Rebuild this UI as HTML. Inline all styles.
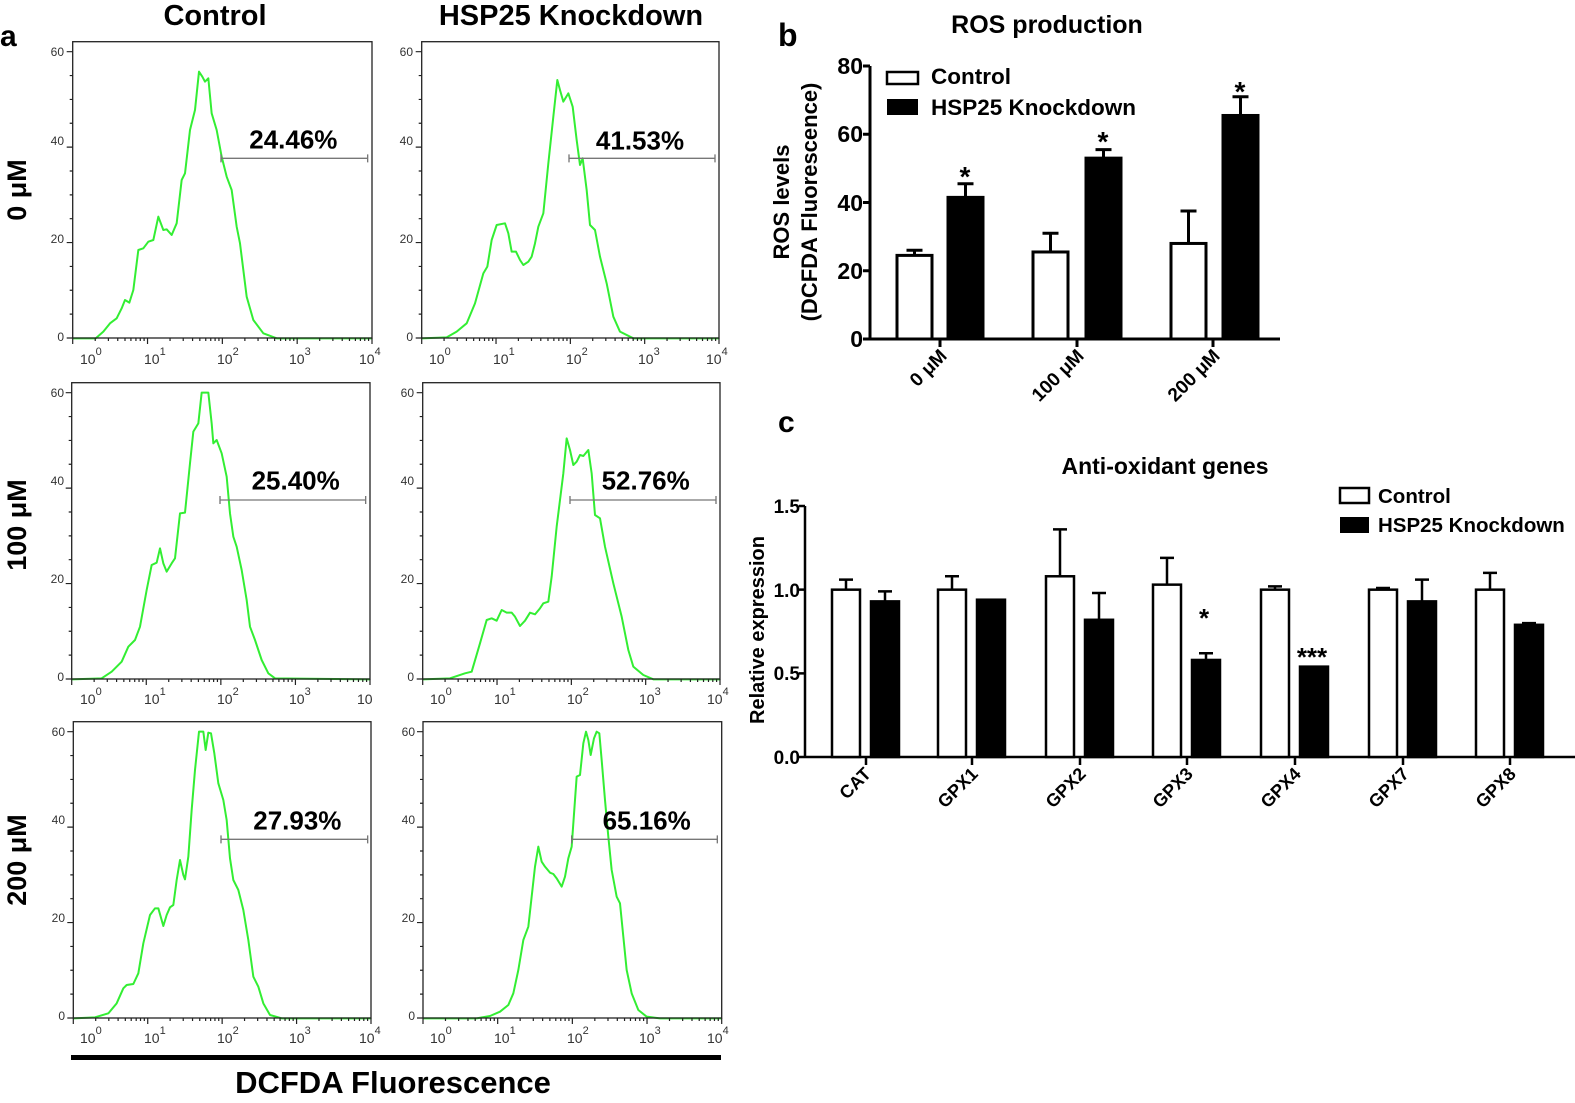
<!DOCTYPE html>
<html><head><meta charset="utf-8"><style>
html,body{margin:0;padding:0;background:#fff;}
svg{display:block;font-family:"Liberation Sans",Arial,sans-serif;}
.b{font-weight:bold;}
</style></head><body>
<svg id="s" width="1575" height="1103" viewBox="0 0 1575 1103" xmlns="http://www.w3.org/2000/svg">
<rect width="1575" height="1103" fill="#fff"/>
<text x="0" y="46" class="b" font-size="30">a</text>
<text x="215" y="25" class="b" font-size="29" text-anchor="middle">Control</text>
<text x="571" y="25" class="b" font-size="29" text-anchor="middle">HSP25 Knockdown</text>
<text transform="translate(26,190) rotate(-90)" class="b" font-size="27" text-anchor="middle">0 μM</text>
<text transform="translate(26,525) rotate(-90)" class="b" font-size="27" text-anchor="middle">100 μM</text>
<text transform="translate(26,860) rotate(-90)" class="b" font-size="27" text-anchor="middle">200 μM</text>
<rect x="71" y="1055" width="650" height="5" fill="#000"/>
<text x="393" y="1093" class="b" font-size="31" text-anchor="middle">DCFDA Fluorescence</text>

<g transform="translate(0,30) scale(0.33333)">
<path d="M218,925 L287,925 L310,905 L330,880 L350,865 L365,835 L375,810 L388,818 L400,780 L415,660 L430,655 L445,635 L460,630 L475,560 L490,600 L500,598 L515,615 L530,580 L545,450 L555,430 L570,300 L585,240 L597,125 L607,140 L615,155 L625,145 L635,250 L650,300 L665,380 L680,440 L695,480 L710,590 L720,640 L740,800 L760,870 L790,910 L830,925 L1115,925" fill="none" stroke="#33ee33" stroke-width="6" stroke-linejoin="round"/>
<path d="M663,385 H1103 M663,373 V397 M1103,373 V397" stroke="#777" stroke-width="4"/>
<text x="880" y="355" class="b" font-size="78" text-anchor="middle">24.46%</text>
</g>
<g transform="translate(400,30) scale(0.33333)">
<path d="M65,925 L140,922 L170,905 L200,880 L225,820 L250,730 L262,710 L275,630 L290,585 L315,580 L325,610 L335,665 L348,665 L360,690 L370,705 L385,695 L395,680 L405,640 L415,590 L430,550 L445,400 L460,260 L472,150 L480,180 L490,215 L505,190 L518,230 L530,330 L540,405 L548,385 L560,480 L570,585 L585,600 L600,680 L620,760 L640,860 L660,905 L700,925 L958,925" fill="none" stroke="#33ee33" stroke-width="6" stroke-linejoin="round"/>
<path d="M507,385 H945 M507,373 V397 M945,373 V397" stroke="#777" stroke-width="4"/>
<text x="720" y="358" class="b" font-size="78" text-anchor="middle">41.53%</text>
</g>
<g transform="translate(55,370) scale(0.33333)">
<path d="M50,928 L140,925 L170,905 L200,875 L220,830 L240,810 L255,770 L275,660 L290,585 L305,578 L315,535 L325,580 L335,605 L350,580 L360,565 L375,430 L390,428 L405,280 L415,185 L430,160 L440,68 L460,68 L470,160 L475,220 L485,210 L500,250 L515,320 L525,430 L535,500 L545,530 L560,600 L575,690 L585,770 L600,810 L620,870 L640,910 L660,925 L945,928" fill="none" stroke="#33ee33" stroke-width="6" stroke-linejoin="round"/>
<path d="M495,390 H932 M495,378 V402 M932,378 V402" stroke="#777" stroke-width="4"/>
<text x="722" y="358" class="b" font-size="78" text-anchor="middle">25.40%</text>
</g>
<g transform="translate(400,370) scale(0.33333)">
<path d="M68,928 L150,925 L195,910 L215,905 L240,820 L260,750 L275,745 L290,752 L305,720 L320,728 L335,728 L345,740 L360,768 L375,752 L390,728 L405,733 L420,715 L430,700 L445,695 L455,620 L470,470 L490,310 L500,205 L510,240 L520,285 L530,275 L540,255 L550,258 L565,240 L575,310 L585,435 L600,445 L615,530 L640,640 L665,740 L685,840 L700,890 L730,915 L760,928 L960,928" fill="none" stroke="#33ee33" stroke-width="6" stroke-linejoin="round"/>
<path d="M510,390 H948 M510,378 V402 M948,378 V402" stroke="#777" stroke-width="4"/>
<text x="737" y="358" class="b" font-size="78" text-anchor="middle">52.76%</text>
</g>
<g transform="translate(55,710) scale(0.33333)">
<path d="M55,925 L120,922 L160,910 L185,880 L205,835 L215,825 L235,822 L250,790 L265,700 L285,615 L300,595 L310,595 L325,648 L335,615 L345,592 L355,585 L365,510 L375,450 L385,495 L390,508 L400,440 L410,300 L420,180 L432,65 L445,65 L452,120 L460,68 L468,70 L478,130 L490,220 L505,270 L515,330 L525,445 L535,510 L550,540 L565,600 L580,690 L595,800 L610,830 L625,880 L645,915 L680,925 L948,925" fill="none" stroke="#33ee33" stroke-width="6" stroke-linejoin="round"/>
<path d="M498,388 H938 M498,376 V400 M938,376 V400" stroke="#777" stroke-width="4"/>
<text x="727" y="358" class="b" font-size="78" text-anchor="middle">27.93%</text>
</g>
<g transform="translate(400,710) scale(0.33333)">
<path d="M70,925 L230,925 L270,918 L300,905 L325,885 L340,850 L355,780 L370,690 L385,650 L395,560 L405,470 L415,410 L425,455 L435,470 L450,488 L460,492 L470,505 L485,530 L495,500 L505,445 L515,410 L525,270 L530,200 L540,195 L550,100 L558,65 L565,90 L572,135 L582,85 L590,65 L598,70 L605,150 L615,270 L625,380 L635,480 L650,560 L660,580 L670,680 L680,780 L695,850 L715,900 L740,920 L780,925 L965,925" fill="none" stroke="#33ee33" stroke-width="6" stroke-linejoin="round"/>
<path d="M515,388 H952 M515,376 V400 M952,376 V400" stroke="#777" stroke-width="4"/>
<text x="740" y="358" class="b" font-size="78" text-anchor="middle">65.16%</text>
</g>

<g font-size="12" fill="#333" text-anchor="end">
<text x="64" y="56">60</text><text x="64" y="145">40</text><text x="64" y="243">20</text><text x="64" y="341">0</text>
<text x="413" y="56">60</text><text x="413" y="145">40</text><text x="413" y="243">20</text><text x="413" y="341">0</text>
<text x="64" y="397">60</text><text x="64" y="485">40</text><text x="64" y="583">20</text><text x="64" y="681">0</text>
<text x="414" y="397">60</text><text x="414" y="485">40</text><text x="414" y="583">20</text><text x="414" y="681">0</text>
<text x="65" y="736">60</text><text x="65" y="824">40</text><text x="65" y="922">20</text><text x="65" y="1020">0</text>
<text x="415" y="736">60</text><text x="415" y="824">40</text><text x="415" y="922">20</text><text x="415" y="1020">0</text>
</g>
<g font-size="14" fill="#333">
<text x="80" y="364">10<tspan dy="-9" font-size="11">0</tspan></text>
<text x="144" y="364">10<tspan dy="-9" font-size="11">1</tspan></text>
<text x="217" y="364">10<tspan dy="-9" font-size="11">2</tspan></text>
<text x="289" y="364">10<tspan dy="-9" font-size="11">3</tspan></text>
<text x="359" y="364">10<tspan dy="-9" font-size="11">4</tspan></text>
<text x="429" y="364">10<tspan dy="-9" font-size="11">0</tspan></text>
<text x="493" y="364">10<tspan dy="-9" font-size="11">1</tspan></text>
<text x="566" y="364">10<tspan dy="-9" font-size="11">2</tspan></text>
<text x="638" y="364">10<tspan dy="-9" font-size="11">3</tspan></text>
<text x="706" y="364">10<tspan dy="-9" font-size="11">4</tspan></text>
<text x="80" y="704">10<tspan dy="-9" font-size="11">0</tspan></text>
<text x="144" y="704">10<tspan dy="-9" font-size="11">1</tspan></text>
<text x="217" y="704">10<tspan dy="-9" font-size="11">2</tspan></text>
<text x="289" y="704">10<tspan dy="-9" font-size="11">3</tspan></text>
<text x="357" y="704">10</text>
<text x="430" y="704">10<tspan dy="-9" font-size="11">0</tspan></text>
<text x="494" y="704">10<tspan dy="-9" font-size="11">1</tspan></text>
<text x="567" y="704">10<tspan dy="-9" font-size="11">2</tspan></text>
<text x="639" y="704">10<tspan dy="-9" font-size="11">3</tspan></text>
<text x="707" y="704">10<tspan dy="-9" font-size="11">4</tspan></text>
<text x="80" y="1043">10<tspan dy="-9" font-size="11">0</tspan></text>
<text x="144" y="1043">10<tspan dy="-9" font-size="11">1</tspan></text>
<text x="217" y="1043">10<tspan dy="-9" font-size="11">2</tspan></text>
<text x="289" y="1043">10<tspan dy="-9" font-size="11">3</tspan></text>
<text x="359" y="1043">10<tspan dy="-9" font-size="11">4</tspan></text>
<text x="430" y="1043">10<tspan dy="-9" font-size="11">0</tspan></text>
<text x="494" y="1043">10<tspan dy="-9" font-size="11">1</tspan></text>
<text x="567" y="1043">10<tspan dy="-9" font-size="11">2</tspan></text>
<text x="639" y="1043">10<tspan dy="-9" font-size="11">3</tspan></text>
<text x="707" y="1043">10<tspan dy="-9" font-size="11">4</tspan></text>
</g>

<!-- panel b -->
<text x="778" y="46" class="b" font-size="32">b</text>
<text x="1047" y="33" class="b" font-size="25" text-anchor="middle">ROS production</text>
<text transform="translate(789,202) rotate(-90)" class="b" font-size="22" text-anchor="middle">ROS levels</text>
<text transform="translate(817,202) rotate(-90)" class="b" font-size="22" text-anchor="middle">(DCFDA Fluorescence)</text>
<g class="b" font-size="23" text-anchor="end">
<text x="863" y="74">80</text><text x="863" y="142">60</text><text x="863" y="211">40</text><text x="863" y="279">20</text><text x="863" y="347">0</text>
</g>
<rect x="887" y="72" width="31" height="12" fill="#fff" stroke="#000" stroke-width="2.5"/>
<rect x="887" y="99" width="31" height="16" fill="#000"/>
<text x="931" y="84" class="b" font-size="22.5">Control</text>
<text x="931" y="115" class="b" font-size="22.5">HSP25 Knockdown</text>
<g class="b" font-size="19" text-anchor="end">
<text transform="translate(948,357) rotate(-45)">0 μM</text>
<text transform="translate(1085,357) rotate(-45)">100 μM</text>
<text transform="translate(1221,357) rotate(-45)">200 μM</text>
</g>
<g class="b" font-size="28" text-anchor="middle">
<text x="965" y="186">*</text><text x="1103" y="151">*</text><text x="1240" y="101">*</text>
</g>

<!-- panel c -->
<text x="778" y="432" class="b" font-size="30">c</text>
<text x="1165" y="474" class="b" font-size="23" text-anchor="middle">Anti-oxidant genes</text>
<text transform="translate(764,630) rotate(-90)" class="b" font-size="20" text-anchor="middle">Relative expression</text>
<g class="b" font-size="19" text-anchor="end">
<text x="800" y="513">1.5</text><text x="800" y="597">1.0</text><text x="800" y="680">0.5</text><text x="800" y="764">0.0</text>
</g>
<rect x="1340" y="488" width="29" height="15" fill="#fff" stroke="#000" stroke-width="2.5"/>
<rect x="1340" y="517" width="29" height="16" fill="#000"/>
<text x="1378" y="503" class="b" font-size="20.5">Control</text>
<text x="1378" y="532" class="b" font-size="20.5">HSP25 Knockdown</text>
<g class="b" font-size="18" text-anchor="end">
<text transform="translate(872,775) rotate(-45)">CAT</text>
<text transform="translate(979,775) rotate(-45)">GPX1</text>
<text transform="translate(1087,775) rotate(-45)">GPX2</text>
<text transform="translate(1194,775) rotate(-45)">GPX3</text>
<text transform="translate(1302,775) rotate(-45)">GPX4</text>
<text transform="translate(1410,775) rotate(-45)">GPX7</text>
<text transform="translate(1517,775) rotate(-45)">GPX8</text>
</g>
<g class="b" font-size="26" text-anchor="middle">
<text x="1204" y="627">*</text><text x="1312" y="666">***</text>
</g>
</svg>
<script>
(function(){
var NS="http://www.w3.org/2000/svg";
var s=document.getElementById('s');
function el(t,a){var e=document.createElementNS(NS,t);for(var k in a)e.setAttribute(k,a[k]);s.appendChild(e);return e;}
var P=[[72.7,41.7,372,338],[421.7,41.7,719,338],[71.7,382.7,370,679],[422.7,382.7,720,679],[73.3,721.7,371,1018],[423,721.7,721.7,1018]];
P.forEach(function(p){
 var L=p[0],T=p[1],R=p[2],B=p[3];
 el('rect',{x:L,y:T,width:R-L,height:B-T,fill:'none',stroke:'#222','stroke-width':1.3});
 var d='';var ys=(B-T-10)/60;
 for(var c=0;c<=60;c+=5){var y=B-c*ys;var len=(c%20==0)?6:3;d+='M'+(L-len)+','+y+'H'+L;}
 var xs=(R-L)/4;
 for(var dec=0;dec<4;dec++){for(var m=1;m<10;m++){var x=L+(dec+Math.log10(m))*xs;var len=m==1?6:3;d+='M'+x+','+B+'V'+(B+len);}}
 d+='M'+R+','+B+'V'+(B+6);
 el('path',{d:d,stroke:'#222','stroke-width':1.2,fill:'none'});
});
function yb(v){return 339-v*273/80;}
var d='M870,'+yb(80)+'V339H1280';
[0,20,40,60,80].forEach(function(v){d+='M863,'+yb(v)+'H870';});
[940,1077,1213].forEach(function(x){d+='M'+x+',339V347';});
el('path',{d:d,stroke:'#000','stroke-width':3,fill:'none'});
var bb=[[897,24.5,26,0],[948,41.5,45.5,1],[1033,25.5,31,0],[1086,53,55.5,1],[1171,28,37.5,0],[1223,65.5,71,1]];
bb.forEach(function(b){var x=b[0],w=35,t=yb(b[1]),e=yb(b[2]),cx=x+w/2;
 el('path',{d:'M'+cx+','+t+'V'+e+'M'+(cx-8)+','+e+'H'+(cx+8),stroke:'#000','stroke-width':3});
 el('rect',{x:x,y:t,width:w,height:339-t,fill:b[3]?'#000':'#fff',stroke:'#000','stroke-width':3});
});
function yc(v){return 757-v*251/1.5;}
d='M805,'+yc(1.5)+'V757H1575';
[0,0.5,1,1.5].forEach(function(v){d+='M799,'+yc(v)+'H805';});
var ticks=[866,972,1080,1187,1295,1403,1510];
ticks.forEach(function(x){d+='M'+x+',757V765';});
el('path',{d:d,stroke:'#000','stroke-width':2.5,fill:'none'});
var cv=[[1.0,1.06,0.93,0.99],[1.0,1.08,0.94,0.94],[1.08,1.36,0.82,0.98],[1.03,1.19,0.58,0.62],[1.0,1.02,0.54,0.54],[1.0,1.01,0.93,1.06],[1.0,1.1,0.79,0.8]];
cv.forEach(function(v,i){var tx=ticks[i];
 [[tx-34,v[0],v[1],0],[tx+5,v[2],v[3],1]].forEach(function(b){var x=b[0],w=28,t=yc(b[1]),e=yc(b[2]),cx=x+w/2;
  if(b[2]>b[1]+0.001)el('path',{d:'M'+cx+','+t+'V'+e+'M'+(cx-7)+','+e+'H'+(cx+7),stroke:'#000','stroke-width':2.5});
  el('rect',{x:x,y:t,width:w,height:757-t,fill:b[3]?'#000':'#fff',stroke:'#000','stroke-width':2.5});
 });
});
})();
</script>
</body></html>
